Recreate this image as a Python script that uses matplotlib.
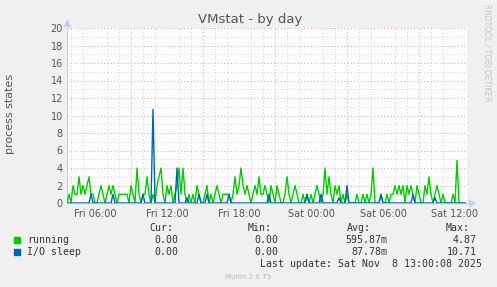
import matplotlib
matplotlib.use('Agg')
import numpy as np
import matplotlib.pyplot as plt
import matplotlib.dates as mdates

# 10-minute samples from Fri 2025-11-07 03:40 to Sat 13:00
START = np.datetime64('2025-11-07T03:40')
END = np.datetime64('2025-11-08T13:00')

running = [
    0, 1, 0, 2, 1, 1, 3, 1, 2, 1, 2, 3, 1, 1, 0, 0, 1, 2, 1, 0,
    1, 2, 1, 2, 1, 0, 1, 1, 1, 1, 1, 0, 2, 1, 0, 4, 1, 0, 1, 1,
    3, 1, 0, 1, 0, 2, 3, 4, 1, 0, 2, 1, 2, 0, 1, 2, 4, 1, 4, 1,
    0, 1, 0, 1, 0, 2, 1, 0, 0, 1, 2, 0, 1, 0, 1, 2, 1, 0, 1, 1,
    1, 1, 0, 1, 3, 1, 2, 4, 2, 1, 2, 1, 0, 1, 2, 1, 3, 1, 1, 2,
    1, 0, 2, 1, 0, 2, 1, 0, 0, 1, 3, 1, 0, 1, 2, 1, 0, 0, 1, 0,
    1, 0, 1, 0, 1, 2, 1, 0, 1, 4, 1, 3, 1, 0, 2, 1, 2, 0, 1, 0,
    1, 0, 0, 0, 0, 1, 0, 0, 1, 0, 1, 0, 1, 4, 0, 0, 0, 1, 0, 0,
    1, 0, 1, 1, 2, 1, 2, 1, 2, 0, 2, 1, 2, 1, 0, 2, 1, 0, 0, 2,
    1, 3, 1, 0, 1, 2, 1, 0, 1, 0, 0, 0, 0, 1, 0, 4.87, 0, 0, 0, 0,
]

io_sleep = [
    0, 0, 0, 0, 0, 0, 0, 0, 0, 0, 0, 0, 1, 0, 0, 0, 0, 0, 0, 0,
    0, 0, 0, 1, 0, 0, 0, 0, 0, 0, 0, 0, 0, 0, 0, 0, 0, 0, 1, 0,
    0, 0, 0, 10.71, 0, 0, 0, 0, 0, 0, 0, 0, 0, 0, 0, 4, 0, 0, 0, 0,
    0.6, 0, 0, 0, 0, 0, 1, 0, 0, 0, 1, 0, 0, 0, 0, 0, 0, 0, 0, 0,
    0, 1, 0, 0, 0, 0, 0, 0, 0, 0, 0, 0, 0, 0, 0, 0, 0, 0, 0, 0,
    0, 1, 0, 0, 0, 0, 0, 0, 0, 0, 0, 0, 0, 0, 0, 0, 0, 0, 0, 0,
    1, 0, 0, 0, 0, 0, 0, 1, 0, 0, 0, 0, 0, 0, 0, 0, 0.6, 0, 0, 0,
    2, 0, 0, 0, 0, 0, 0, 0, 0, 0, 0, 0, 0, 0, 0, 0, 0, 1, 0, 0,
    0, 0, 0, 0, 0, 0, 0, 0, 0, 0, 0, 0, 0, 1, 0, 0, 0, 0, 0, 0,
    0, 0, 0, 0, 0.6, 0, 0, 0, 0, 0, 0, 0, 0, 0, 0, 0, 0, 0, 0, 0,
]

legend_rows = [
    ("running", "#00cc00", "0.00", "0.00", "595.87m", "4.87"),
    ("I/O sleep", "#0066b3", "0.00", "0.00", "87.78m", "10.71"),
]

times = START + np.arange(len(running)) * np.timedelta64(10, 'm')
times = times.astype('datetime64[s]').astype(object)

W, H = 497, 287
fig = plt.figure(figsize=(W / 100, H / 100), dpi=100, facecolor="#f0f0f0")
ax = fig.add_axes([67 / W, (H - 203) / H, 400 / W, 175 / H])
ax.set_facecolor("white")

ax.set_xlim(START.astype(object), END.astype(object))
ax.set_ylim(0, 20)

# grid: minor gray every hour / every unit, major red
ax.xaxis.set_minor_locator(mdates.HourLocator(interval=1))
ax.yaxis.set_minor_locator(matplotlib.ticker.MultipleLocator(1))
ax.grid(which="minor", color="#d4d4d4", linestyle=(0, (1, 2)), linewidth=0.8)
for h in range(0, 22, 2):
    ax.axhline(h, color="#e6a6a6", linestyle=(0, (1, 2)), linewidth=0.8, zorder=1)
for hh in mdates.drange(np.datetime64('2025-11-07T03:00').astype(object),
                        END.astype(object), np.timedelta64(6, 'h').astype(object)):
    ax.axvline(hh, color="#e6a6a6", linestyle=(0, (1, 2)), linewidth=0.8, zorder=1)

ax.plot(times, running, color="#00cc00", linewidth=1.0, zorder=3)
ax.plot(times, io_sleep, color="#0066b3", linewidth=1.0, zorder=4)

ax.xaxis.set_major_locator(mdates.HourLocator(byhour=[0, 6, 12, 18]))
ax.xaxis.set_major_formatter(mdates.DateFormatter("%a %H:%M"))
ax.set_yticks(range(0, 21, 2))
ax.tick_params(axis="both", which="both", length=0, labelsize=7, colors="#555555", pad=3)
ax.tick_params(axis="x", pad=4)

for s in ["top", "right"]:
    ax.spines[s].set_visible(False)
ax.spines["left"].set_color("#c8cdf0")
ax.spines["bottom"].set_color("#a8b4e8")
ax.plot([0], [1.03], marker="^", color="#c8cdf0", markersize=4, transform=ax.transAxes, clip_on=False)
ax.plot([1.012], [0], marker=">", color="#c8cdf0", markersize=4, transform=ax.transAxes, clip_on=False)

fig.text(250 / W, 1 - 19 / H, "VMstat - by day", ha="center", va="center", fontsize=9.5, color="#555555")
fig.text(10 / W, 1 - 114 / H, "process states", ha="center", va="center", rotation=90, fontsize=8, color="#555555")
fig.text(487 / W, 1 - 53 / H, "RRDTOOL / TOBI OETIKER", ha="center", va="center", rotation=270,
         fontsize=5.5, color="#c4c4c4")

mono = dict(family="DejaVu Sans Mono", fontsize=7.1, color="#333333", va="center")
fig.text(173 / W, 1 - 228 / H, "Cur:", ha="right", **mono)
fig.text(272 / W, 1 - 228 / H, "Min:", ha="right", **mono)
fig.text(371 / W, 1 - 228 / H, "Avg:", ha="right", **mono)
fig.text(470 / W, 1 - 228 / H, "Max:", ha="right", **mono)
for k, (name, col, cur, mn, avg, mx) in enumerate(legend_rows):
    y = 1 - (240 + 12 * k) / H
    fig.patches.append(plt.Rectangle((14 / W, y - 3 / H), 6 / W, 6 / H, transform=fig.transFigure,
                                     color=col, figure=fig))
    fig.text(27 / W, y, name, ha="left", **mono)
    fig.text(178 / W, y, cur, ha="right", **mono)
    fig.text(278 / W, y, mn, ha="right", **mono)
    fig.text(387 / W, y, avg, ha="right", **mono)
    fig.text(477 / W, y, mx, ha="right", **mono)
fig.text(482 / W, 1 - 264 / H, "Last update: Sat Nov  8 13:00:08 2025", ha="right", **mono)
fig.text(248 / W, 1 - 277 / H, "Munin 2.0.73", ha="center", va="center", fontsize=5, color="#b8b8b8")

fig.savefig("out.png", dpi=100, facecolor=fig.get_facecolor())
